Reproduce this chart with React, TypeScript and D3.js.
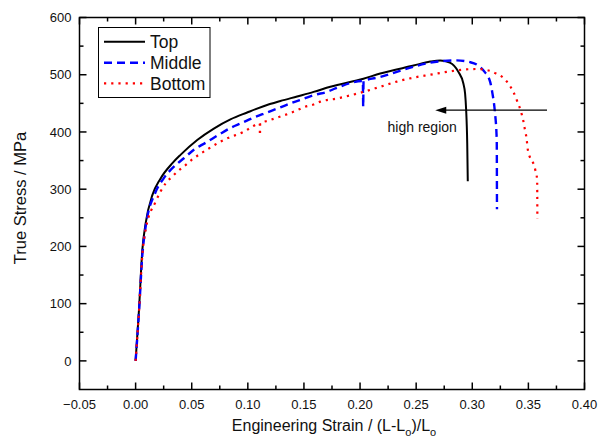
import React from "react";
import * as d3 from "d3";

const topStrain = [0, 0.003, 0.006, 0.009, 0.015, 0.022, 0.033, 0.040, 0.0549, 0.0697, 0.0845, 0.0994, 0.114, 0.129, 0.1439, 0.1586, 0.1735, 0.203, 0.218, 0.2477, 0.2625, 0.2714, 0.280, 0.2876, 0.292, 0.2936, 0.2945, 0.2955, 0.296];
const topStress = [0, 89, 194, 241, 290, 318, 346, 360, 386, 406, 422, 434, 445, 454, 462, 470, 479, 493, 502, 516, 523, 525, 521, 505, 485, 467, 440, 380, 314];

const midStrain = [0, 0.003, 0.006, 0.009, 0.0178, 0.025, 0.0356, 0.043, 0.0519, 0.0623, 0.074, 0.0845, 0.095, 0.105, 0.117, 0.129, 0.1394, 0.1497, 0.160, 0.1705, 0.178, 0.2025, 0.2028, 0.2031, 0.218, 0.2328, 0.2477, 0.2625, 0.2743, 0.286, 0.298, 0.3054, 0.311, 0.316, 0.318, 0.320, 0.3218, 0.322];
const midStress = [0, 85, 185, 235, 295, 319, 342, 354, 369, 381, 395, 407, 416, 425, 434, 443, 451, 458, 465, 470, 476, 489, 444, 489, 496, 505, 514, 521, 524, 525, 522, 516, 505, 487, 467, 438, 386, 265];

const botStrain = [0, 0.003, 0.006, 0.009, 0.0178, 0.0267, 0.0326, 0.0385, 0.0445, 0.0504, 0.0578, 0.0652, 0.0756, 0.083, 0.095, 0.1023, 0.1106, 0.1108, 0.111, 0.1186, 0.129, 0.1364, 0.1439, 0.151, 0.1586, 0.1646, 0.178, 0.203, 0.218, 0.2328, 0.2477, 0.2625, 0.2773, 0.292, 0.304, 0.3153, 0.3212, 0.3268, 0.332, 0.3366, 0.340, 0.343, 0.3455, 0.347, 0.3485, 0.3494, 0.356, 0.3578, 0.358];
const botStress = [0, 85, 185, 230, 278, 310, 322, 333, 342, 352, 362, 371, 383, 390, 399, 407, 415, 394, 415, 420, 427, 432, 438, 444, 448, 453, 458, 470, 479, 488, 495, 500, 505, 509, 510, 507, 502, 496, 485, 470, 454, 438, 419, 403, 387, 370, 335, 317, 248];

const seriesNames = ["Top", "Middle", "Bottom"];
const xTicks = [-0.05, 0, 0.05, 0.1, 0.15, 0.2, 0.25, 0.3, 0.35, 0.4];
const yTicks = [0, 100, 200, 300, 400, 500, 600];
const arrowFrom = [0.3666, 438];
const arrowTo = [0.267, 438];
const noteText = "high region";
const notePos = [0.2245, 400];

const W = 599, H = 447;
const L = 79.5, R = 584.5, T = 17.5, B = 389.5;
const FONT = "'Liberation Sans', Arial, Helvetica, sans-serif";

export default function App() {
  const x = d3.scaleLinear().domain([-0.05, 0.4]).range([L, R]);
  const y = d3.scaleLinear().domain([-50, 600]).range([B, T]);
  const line = d3.line<[number, number]>().x(d => x(d[0])).y(d => y(d[1])).curve(d3.curveMonotoneX);
  const zip = (a: number[], b: number[]) => a.map((v, i) => [v, b[i]] as [number, number]);

  const series = [
    { name: seriesNames[0], d: zip(topStrain, topStress), color: "#000", dash: "none", w: 2 },
    { name: seriesNames[1], d: zip(midStrain, midStress), color: "#0000ff", dash: "8,5", w: 2.4 },
    { name: seriesNames[2], d: zip(botStrain, botStress), color: "#ff0000", dash: "2.2,5", w: 2.2 },
  ];

  const xMinor = d3.range(0, 9).map(i => -0.025 + i * 0.05);
  const yMinor = d3.range(0, 7).map(i => 50 + i * 100);
  const maj = 7, mnr = 4;

  const ax = 1.5;
  const ticks: JSX.Element[] = [];
  xTicks.forEach((t, i) => {
    const px = x(t);
    ticks.push(<line key={"xb" + i} x1={px} x2={px} y1={B} y2={B - maj} stroke="#000" strokeWidth={ax} />);
    ticks.push(<line key={"xt" + i} x1={px} x2={px} y1={T} y2={T + maj} stroke="#000" strokeWidth={ax} />);
  });
  xMinor.forEach((t, i) => {
    const px = x(t);
    ticks.push(<line key={"xbm" + i} x1={px} x2={px} y1={B} y2={B - mnr} stroke="#000" strokeWidth={ax} />);
    ticks.push(<line key={"xtm" + i} x1={px} x2={px} y1={T} y2={T + mnr} stroke="#000" strokeWidth={ax} />);
  });
  yTicks.forEach((t, i) => {
    const py = y(t);
    ticks.push(<line key={"yl" + i} x1={L} x2={L + maj} y1={py} y2={py} stroke="#000" strokeWidth={ax} />);
    ticks.push(<line key={"yr" + i} x1={R} x2={R - maj} y1={py} y2={py} stroke="#000" strokeWidth={ax} />);
  });
  yMinor.forEach((t, i) => {
    const py = y(t);
    ticks.push(<line key={"ylm" + i} x1={L} x2={L + mnr} y1={py} y2={py} stroke="#000" strokeWidth={ax} />);
    ticks.push(<line key={"yrm" + i} x1={R} x2={R - mnr} y1={py} y2={py} stroke="#000" strokeWidth={ax} />);
  });

  const ax1 = x(arrowFrom[0]), ax2 = x(arrowTo[0]), ay = y(arrowFrom[1]);

  return (
    <svg width={W} height={H} style={{ position: "absolute", left: 0, top: 0, background: "#fff" }} fontFamily={FONT}>
      <rect x={0} y={0} width={W} height={H} fill="#fff" />
      {series.map(s => (
        <path key={s.name} d={line(s.d) || ""} fill="none" stroke={s.color} strokeWidth={s.w}
          strokeDasharray={s.dash} strokeLinejoin="round" />
      ))}
      {/* annotation arrow */}
      <line x1={ax1} x2={ax2 + 9} y1={ay} y2={ay} stroke="#000" strokeWidth={1.3} />
      <path d={`M${ax2},${ay} L${ax2 + 11},${ay - 3.5} L${ax2 + 11},${ay + 3.5} Z`} fill="#000" />
      <text x={x(notePos[0])} y={y(notePos[1])} fontSize={14} fill="#111">{noteText}</text>

      {/* frame */}
      <rect x={L} y={T} width={R - L} height={B - T} fill="none" stroke="#000" strokeWidth={ax} />
      {ticks}
      {xTicks.map(t => (
        <text key={"xl" + t} x={x(t)} y={408.5} fontSize={13} textAnchor="middle" fill="#111">{d3.format(".2f")(t)}</text>
      ))}
      {yTicks.map(t => (
        <text key={"yl" + t} x={71.5} y={y(t) + 4.7} fontSize={13} textAnchor="end" fill="#111">{t}</text>
      ))}

      {/* axis titles */}
      <text x={334} y={431} fontSize={16} textAnchor="middle" fill="#111">
        Engineering Strain / (L-L<tspan fontSize={11} dy={5}>o</tspan><tspan dy={-5}>)/L</tspan><tspan fontSize={11} dy={5}>o</tspan>
      </text>
      <text transform={`translate(26,${198}) rotate(-90)`} fontSize={16.5} textAnchor="middle" fill="#111">True Stress / MPa</text>

      {/* legend */}
      <rect x={98.5} y={27.5} width={111.5} height={70} fill="#fff" stroke="#000" strokeWidth={1} />
      {series.map((s, i) => {
        const ly = [41.7, 62.7, 83.3][i];
        return (
          <g key={"lg" + s.name}>
            <line x1={104} x2={145} y1={ly} y2={ly} stroke={s.color} strokeWidth={s.w}
              strokeDasharray={s.dash === "none" ? undefined : s.dash} />
            <text x={150} y={ly + 6.5} fontSize={17.5} fill="#111">{s.name}</text>
          </g>
        );
      })}
    </svg>
  );
}
